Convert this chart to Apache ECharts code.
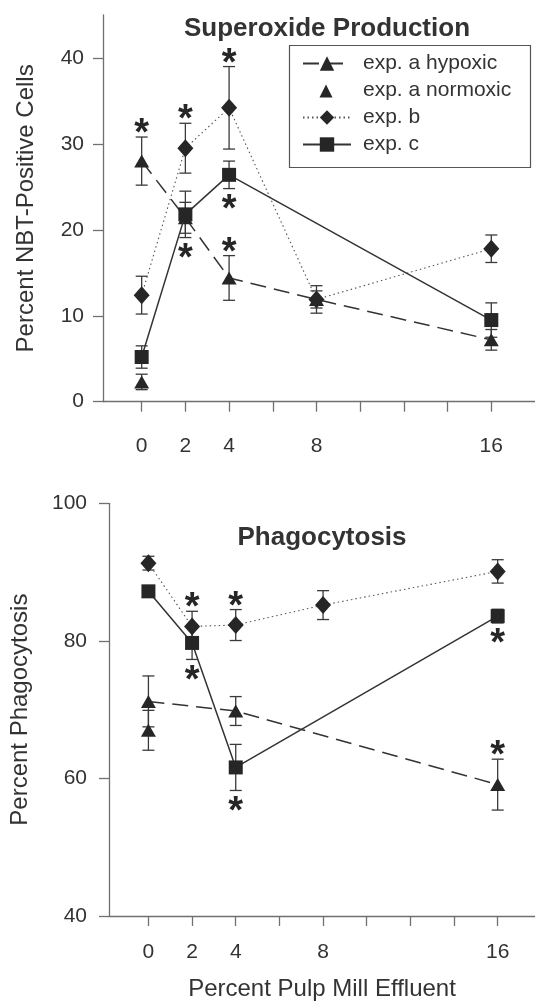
<!DOCTYPE html>
<html><head><meta charset="utf-8">
<script src="https://cdn.jsdelivr.net/npm/echarts@6/dist/echarts.min.js"></script>
<style>html,body{margin:0;padding:0;background:#fff}#c{width:535px;height:1003px}</style>
</head><body><div id="c"></div>
<script>
// ---------- data ----------
const xTickValues = [0, 2, 4, 6, 8, 10, 12, 14, 16];
const xLabelValues = [0, 2, 4, 8, 16];
const supYTicks = [0, 10, 20, 30, 40];
const phaYTicks = [40, 60, 80, 100];
const seriesNames = ['exp. a hypoxic', 'exp. a normoxic', 'exp. b', 'exp. c'];

// Superoxide Production (top)
const supHypoxicX = [0, 2, 4, 8, 16];
const supHypoxicY = [28.0, 21.4, 14.4, 11.9, 7.2];
const supHypoxicErr = [2.8, 1.8, 2.6, 1.0, 1.2];
const supNormoxicX = [0];
const supNormoxicY = [2.3];
const supNormoxicErr = [0.9];
const supBX = [0, 2, 4, 8, 16];
const supBY = [12.4, 29.5, 34.2, 11.9, 17.8];
const supBErr = [2.2, 2.9, 4.8, 1.6, 1.6];
const supCX = [0, 2, 4, 16];
const supCY = [5.2, 21.8, 26.4, 9.5];
const supCErr = [1.3, 2.7, 1.6, 2.0];
const supHypoxicSigAbove = [0, 4];
const supBSigAbove = [2, 4];
const supCSigBelow = [2, 4];

// Phagocytosis (bottom)
const phaHypoxicX = [0, 4, 16];
const phaHypoxicY = [71.2, 69.8, 59.1];
const phaHypoxicErr = [3.7, 2.1, 3.7];
const phaNormoxicX = [0];
const phaNormoxicY = [67.0];
const phaNormoxicErr = [2.9];
const phaBX = [0, 2, 4, 8, 16];
const phaBY = [91.3, 82.1, 82.3, 85.2, 90.1];
const phaBErr = [1.0, 2.2, 2.25, 2.1, 1.7];
const phaCX = [0, 2, 4, 16];
const phaCY = [87.2, 79.7, 61.6, 83.6];
const phaCErr = [0.6, 2.4, 3.35, 1.0];
const phaBSigAbove = [2, 4];
const phaCSigBelow = [2, 4, 16];
const phaHypoxicSigAbove = [16];

// ---------- helpers ----------
const FONT = '"Liberation Sans", Arial, Helvetica, sans-serif';
const INK = '#262626';
function pairs(xs, ys) { return xs.map((x, i) => [x, ys[i]]); }
function triples(xs, ys, es) { return xs.map((x, i) => [x, ys[i], es[i]]); }
function sig(xs, ys, es, sx, dir) {
  return sx.map(v => { const i = xs.indexOf(v); return [v, ys[i] + dir * es[i], dir]; });
}
function errRender(params, api) {
  const x = api.value(0), y = api.value(1), e = api.value(2);
  const t = api.coord([x, y + e]), b = api.coord([x, y - e]);
  const hw = 6;
  const st = { stroke: '#3a3a3a', lineWidth: 1.3 };
  return { type: 'group', children: [
    { type: 'line', shape: { x1: t[0], y1: t[1], x2: b[0], y2: b[1] }, style: st },
    { type: 'line', shape: { x1: t[0] - hw, y1: t[1], x2: t[0] + hw, y2: t[1] }, style: st },
    { type: 'line', shape: { x1: b[0] - hw, y1: b[1], x2: b[0] + hw, y2: b[1] }, style: st }
  ] };
}
const STAR_ABOVE = 2.4, STAR_BELOW = 21.6;
function starRender(params, api) {
  const x = api.value(0), yv = api.value(1), d = api.value(2);
  const p = api.coord([x, yv]);
  return { type: 'text', x: p[0], y: p[1] + (d > 0 ? -STAR_ABOVE : STAR_BELOW),
    style: { text: '*', fontSize: 38, fontWeight: 'bold', fontFamily: FONT, fill: INK,
      align: 'center', verticalAlign: 'middle' } };
}
const axisCommon = {
  type: 'value',
  axisLine: { show: true, onZero: false, lineStyle: { color: '#707070', width: 1.3 } },
  axisTick: { show: true, length: 10, lineStyle: { color: '#707070', width: 1.3 } },
  splitLine: { show: false },
  axisLabel: { color: '#333', fontSize: 21, fontFamily: FONT },
  nameTextStyle: { color: '#333', fontSize: 24, fontFamily: FONT }
};
function mk(o) { return echarts.util.merge(echarts.util.clone(axisCommon), o, true); }

const TRI = [15, 13];
const hypStyle = { symbol: 'triangle', symbolSize: TRI, itemStyle: { color: INK, opacity: 1 },
  lineStyle: { color: '#333', width: 1.5, type: [16, 8] } };
const bStyle = { symbol: 'diamond', symbolSize: [16, 18], itemStyle: { color: INK, opacity: 1 },
  lineStyle: { color: '#555', width: 1.1, type: [1.5, 3] } };
const cStyle = { symbol: 'rect', symbolSize: 14, itemStyle: { color: INK, opacity: 1 },
  lineStyle: { color: '#333', width: 1.5, type: 'solid' } };

function panel(gi, H, N, B, C, sigs) {
  const ax = { xAxisIndex: gi, yAxisIndex: gi };
  return [
    Object.assign({ type: 'custom', renderItem: errRender, data: triples(H[0], H[1], H[2]), z: 1, silent: true }, ax),
    Object.assign({ type: 'custom', renderItem: errRender, data: triples(N[0], N[1], N[2]), z: 1, silent: true }, ax),
    Object.assign({ type: 'custom', renderItem: errRender, data: triples(B[0], B[1], B[2]), z: 1, silent: true }, ax),
    Object.assign({ type: 'custom', renderItem: errRender, data: triples(C[0], C[1], C[2]), z: 1, silent: true }, ax),
    Object.assign({ name: seriesNames[0], type: 'line', data: pairs(H[0], H[1]), z: 2, showAllSymbol: true }, hypStyle, ax),
    Object.assign({ name: seriesNames[1], type: 'scatter', data: pairs(N[0], N[1]), z: 2, symbol: 'triangle',
      symbolSize: TRI, itemStyle: { color: INK, opacity: 1 } }, ax),
    Object.assign({ name: seriesNames[2], type: 'line', data: pairs(B[0], B[1]), z: 3, showAllSymbol: true }, bStyle, ax),
    Object.assign({ name: seriesNames[3], type: 'line', data: pairs(C[0], C[1]), z: 4, showAllSymbol: true }, cStyle, ax),
    Object.assign({ type: 'custom', renderItem: starRender, data: sigs, z: 6, silent: true }, ax)
  ];
}

const supSigs = [].concat(
  sig(supHypoxicX, supHypoxicY, supHypoxicErr, supHypoxicSigAbove, 1),
  sig(supBX, supBY, supBErr, supBSigAbove, 1),
  sig(supCX, supCY, supCErr, supCSigBelow, -1));
const phaSigs = [].concat(
  sig(phaHypoxicX, phaHypoxicY, phaHypoxicErr, phaHypoxicSigAbove, 1),
  sig(phaBX, phaBY, phaBErr, phaBSigAbove, 1),
  sig(phaCX, phaCY, phaCErr, phaCSigBelow, -1));

const legendData = [
  { name: seriesNames[0] },
  { name: seriesNames[1], icon: 'path://M0,0M48,18M16.5,16L23,3L29.5,16Z' },
  { name: seriesNames[2] },
  { name: seriesNames[3] }
];

const option = {
  animation: false,
  backgroundColor: '#fff',
  title: [
    { text: 'Superoxide Production', left: 322, top: 11, textAlign: 'center',
      textStyle: { fontSize: 26, fontWeight: 'bold', color: '#333', fontFamily: FONT } },
    { text: 'Phagocytosis', left: 317, top: 520, textAlign: 'center',
      textStyle: { fontSize: 26, fontWeight: 'bold', color: '#333', fontFamily: FONT } }
  ],
  legend: {
    data: legendData, orient: 'vertical', left: 302, top: 53, padding: 0,
    itemWidth: 48, itemHeight: 18, itemGap: 6, selectedMode: false,
    textStyle: { fontSize: 21, color: '#333', fontFamily: FONT, padding: [0, 0, 0, 7] }
  },
  graphic: [{ type: 'rect', shape: { x: 289.5, y: 45.5, width: 241, height: 122 },
    style: { fill: 'none', stroke: '#555', lineWidth: 1.2 }, z: 10 }],
  grid: [
    { left: 103, right: 0, top: 15, bottom: 601.3 },
    { left: 106, right: 0, top: 503.3, bottom: 87 }
  ],
  xAxis: [
    mk({ gridIndex: 0, min: -1.77, max: 18,
      axisTick: { customValues: xTickValues }, axisLabel: { customValues: xLabelValues, margin: 34 } }),
    mk({ gridIndex: 1, min: -1.806, max: 17.71, name: 'Percent Pulp Mill Effluent',
      nameLocation: 'middle', nameGap: 61,
      axisTick: { customValues: xTickValues }, axisLabel: { customValues: xLabelValues, margin: 26 } })
  ],
  yAxis: [
    mk({ gridIndex: 0, min: 0, max: 45, name: 'Percent NBT-Positive Cells',
      nameLocation: 'middle', nameGap: 65,
      axisTick: { customValues: supYTicks }, axisLabel: { customValues: supYTicks, margin: 19 } }),
    mk({ gridIndex: 1, min: 40, max: 100, name: 'Percent Phagocytosis',
      nameLocation: 'middle', nameGap: 77,
      axisTick: { customValues: phaYTicks }, axisLabel: { customValues: phaYTicks, margin: 22 } })
  ],
  series: [].concat(
    panel(0, [supHypoxicX, supHypoxicY, supHypoxicErr], [supNormoxicX, supNormoxicY, supNormoxicErr],
      [supBX, supBY, supBErr], [supCX, supCY, supCErr], supSigs),
    panel(1, [phaHypoxicX, phaHypoxicY, phaHypoxicErr], [phaNormoxicX, phaNormoxicY, phaNormoxicErr],
      [phaBX, phaBY, phaBErr], [phaCX, phaCY, phaCErr], phaSigs)
  )
};
const chart = echarts.init(document.getElementById('c'), null, { renderer: 'canvas' });
chart.setOption(option);
</script></body></html>
